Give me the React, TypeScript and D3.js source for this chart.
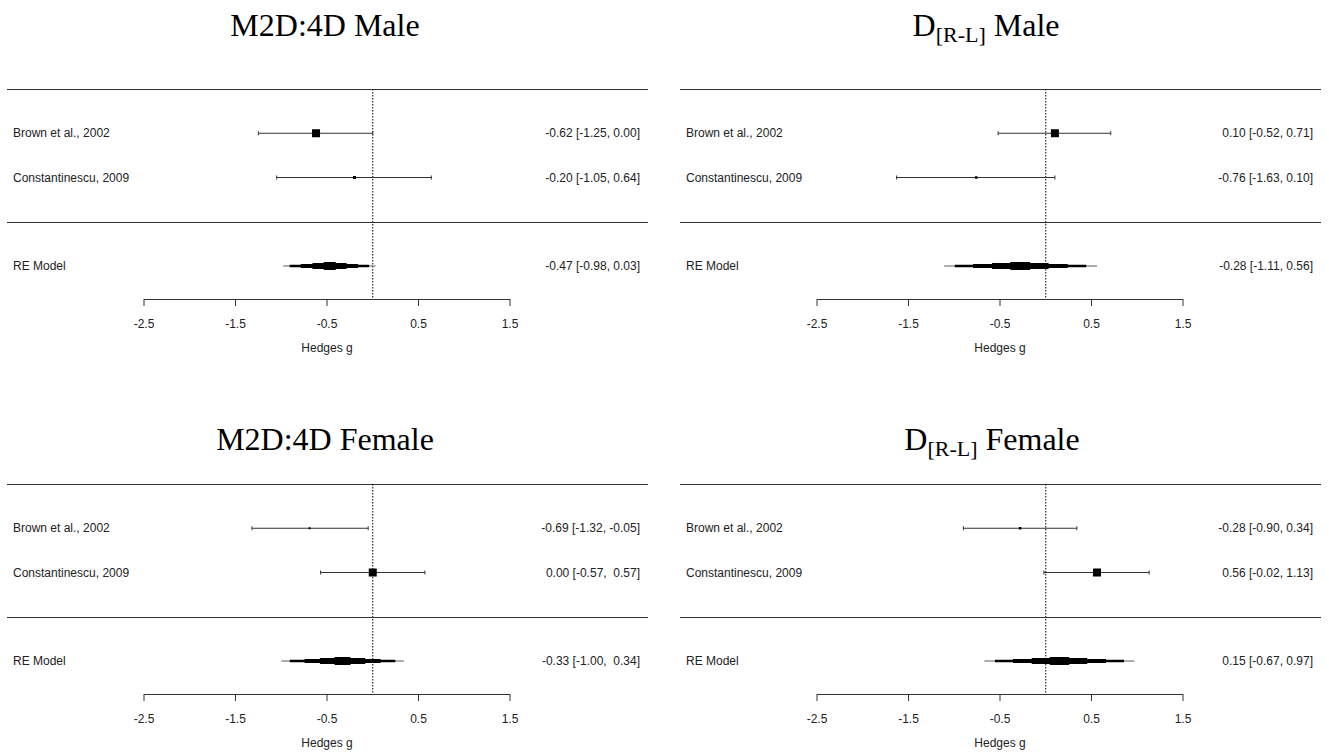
import * as d3 from "d3";

// study labels and axis
const studies = ["Brown et al., 2002", "Constantinescu, 2009"];
const summaryLabel = "RE Model";
const tickValues = [-2.5, -1.5, -0.5, 0.5, 1.5];
const xDomain = [-2.5, 1.5];
const xLabel = "Hedges g";

// M2D:4D Male
const m2dMaleEst = [-0.62, -0.2];
const m2dMaleLow = [-1.25, -1.05];
const m2dMaleHigh = [0.0, 0.64];
const m2dMaleWeight = [0.8, 0.3];
const m2dMaleRE = [-0.47, -0.98, 0.03];

// D[R-L] Male
const drlMaleEst = [0.1, -0.76];
const drlMaleLow = [-0.52, -1.63];
const drlMaleHigh = [0.71, 0.1];
const drlMaleWeight = [0.8, 0.25];
const drlMaleRE = [-0.28, -1.11, 0.56];

// M2D:4D Female
const m2dFemaleEst = [-0.69, 0.0];
const m2dFemaleLow = [-1.32, -0.57];
const m2dFemaleHigh = [-0.05, 0.57];
const m2dFemaleWeight = [0.2, 0.8];
const m2dFemaleRE = [-0.33, -1.0, 0.34];

// D[R-L] Female
const drlFemaleEst = [-0.28, 0.56];
const drlFemaleLow = [-0.9, -0.02];
const drlFemaleHigh = [0.34, 1.13];
const drlFemaleWeight = [0.25, 0.8];
const drlFemaleRE = [0.15, -0.67, 0.97];

type Panel = {
  main: string;
  sub?: string;
  rest: string;
  titleX: number;
  est: number[];
  low: number[];
  high: number[];
  weight: number[];
  re: number[];
  dx: number;
  dy: number;
  titleDy: number;
};

const panels: Panel[] = [
  { main: "M2D:4D Male", rest: "", titleX: 325, est: m2dMaleEst, low: m2dMaleLow, high: m2dMaleHigh, weight: m2dMaleWeight, re: m2dMaleRE, dx: 0, dy: 0, titleDy: 0 },
  { main: "D", sub: "[R-L]", rest: " Male", titleX: 986, est: drlMaleEst, low: drlMaleLow, high: drlMaleHigh, weight: drlMaleWeight, re: drlMaleRE, dx: 673, dy: 0, titleDy: 0 },
  { main: "M2D:4D Female", rest: "", titleX: 325, est: m2dFemaleEst, low: m2dFemaleLow, high: m2dFemaleHigh, weight: m2dFemaleWeight, re: m2dFemaleRE, dx: 0, dy: 395, titleDy: 414 },
  { main: "D", sub: "[R-L]", rest: " Female", titleX: 992, est: drlFemaleEst, low: drlFemaleLow, high: drlFemaleHigh, weight: drlFemaleWeight, re: drlFemaleRE, dx: 673, dy: 395, titleDy: 414 },
];

// nested bands of the summary estimate (fraction of CI half width, bar height)
const reBands: [number, number][] = [
  [1, 1.2],
  [0.86, 2.5],
  [0.62, 4],
  [0.37, 6],
  [0.13, 8],
];

const sans = "'Liberation Sans', Arial, sans-serif";
const serif = "'Liberation Serif', 'Times New Roman', serif";

const f2 = (v: number) => (Math.abs(v) < 0.005 ? 0 : v).toFixed(2);
const pad = (s: string, w: number) => " ".repeat(Math.max(0, w - s.length)) + s;

function ForestPanel({ p }: { p: Panel }) {
  const x = d3.scaleLinear().domain(xDomain).range([144 + p.dx, 510 + p.dx]);
  const y = d3.scaleLinear().domain([3, -1]).range([89 + p.dy, 266 + p.dy]);
  const size = d3.scaleLinear().domain([0, 1]).range([0, 10]);
  const axisY = Math.round(y(-1.746));
  const left = 7 + p.dx;
  const right = 648 + p.dx;

  const rows = studies.map((s, i) => ({
    label: s,
    est: p.est[i],
    low: p.low[i],
    high: p.high[i],
    w: p.weight[i],
    row: studies.length - i,
  }));
  const allEst = [...p.est, p.re[0]].map(f2);
  const allLow = [...p.low, p.re[1]].map(f2);
  const allHigh = [...p.high, p.re[2]].map(f2);
  const wE = d3.max(allEst, (s) => s.length)!;
  const wL = d3.max(allLow, (s) => s.length)!;
  const wH = d3.max(allHigh, (s) => s.length)!;
  const annot = (i: number) => `${pad(allEst[i], wE)} [${pad(allLow[i], wL)}, ${pad(allHigh[i], wH)}]`;

  const [reEst, reLow, reHigh] = p.re;

  return (
    <g>
      <text x={p.titleX} y={36 + p.titleDy} textAnchor="middle" fontFamily={serif} fontSize={32} fill="#000">
        {p.main}
        {p.sub && (
          <tspan fontSize={22} dy={6}>
            {p.sub}
          </tspan>
        )}
        {p.sub && <tspan dy={-6}>{p.rest}</tspan>}
      </text>

      <line x1={left} x2={right} y1={Math.round(y(3)) + 0.5} y2={Math.round(y(3)) + 0.5} stroke="#333" />
      <line x1={left} x2={right} y1={Math.round(y(0)) + 0.5} y2={Math.round(y(0)) + 0.5} stroke="#333" />
      <line x1={x(0)} x2={x(0)} y1={y(3)} y2={axisY} stroke="#000" strokeDasharray="1.5,1.5" />

      {rows.map((r, i) => (
        <g key={r.label}>
          <text x={13 + p.dx} y={y(r.row) + 4} fontFamily={sans} fontSize={12} fill="#222">
            {r.label}
          </text>
          <text x={640 + p.dx} y={y(r.row) + 4} textAnchor="end" fontFamily={sans} fontSize={12} fill="#222" style={{ whiteSpace: "pre" }}>
            {annot(i)}
          </text>
          <line x1={x(r.low)} x2={x(r.high)} y1={y(r.row)} y2={y(r.row)} stroke="#333" />
          <line x1={x(r.low)} x2={x(r.low)} y1={y(r.row) - 2} y2={y(r.row) + 2} stroke="#333" />
          <line x1={x(r.high)} x2={x(r.high)} y1={y(r.row) - 2} y2={y(r.row) + 2} stroke="#333" />
          <rect
            x={x(r.est) - size(r.w) / 2}
            y={y(r.row) - size(r.w) / 2}
            width={size(r.w)}
            height={size(r.w)}
            fill="#000"
          />
        </g>
      ))}

      <text x={13 + p.dx} y={y(-1) + 4} fontFamily={sans} fontSize={12} fill="#222">
        {summaryLabel}
      </text>
      <text x={640 + p.dx} y={y(-1) + 4} textAnchor="end" fontFamily={sans} fontSize={12} fill="#222" style={{ whiteSpace: "pre" }}>
        {annot(2)}
      </text>
      {reBands.map(([frac, h], i) => {
        const a = x(reEst - (reEst - reLow) * frac);
        const b = x(reEst + (reHigh - reEst) * frac);
        return <rect key={i} x={a} y={y(-1) - h / 2} width={b - a} height={h} fill={i === 0 ? "#777" : "#000"} />;
      })}

      <line x1={x(xDomain[0])} x2={x(xDomain[1])} y1={axisY + 0.5} y2={axisY + 0.5} stroke="#333" />
      {tickValues.map((t) => (
        <g key={t}>
          <line x1={x(t)} x2={x(t)} y1={axisY} y2={axisY + 7} stroke="#333" />
          <text x={x(t)} y={axisY + 29} textAnchor="middle" fontFamily={sans} fontSize={12} fill="#222">
            {t.toFixed(1)}
          </text>
        </g>
      ))}
      <text x={x(-0.5)} y={axisY + 53} textAnchor="middle" fontFamily={sans} fontSize={12} fill="#222">
        {xLabel}
      </text>
    </g>
  );
}

export default function App() {
  return (
    <svg
      width={1329}
      height={754}
      viewBox="0 0 1329 754"
      style={{ position: "absolute", left: 0, top: 0, background: "#fff" }}
    >
      <rect width={1329} height={754} fill="#fff" />
      {panels.map((p, i) => (
        <ForestPanel key={i} p={p} />
      ))}
    </svg>
  );
}
